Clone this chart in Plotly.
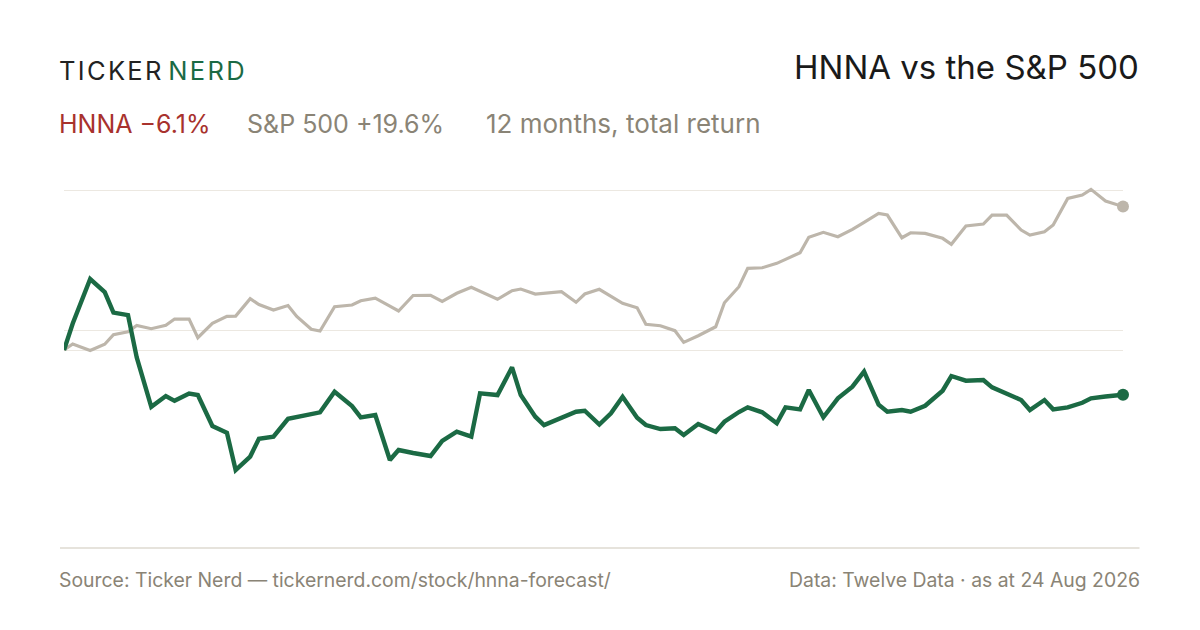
import pandas as pd
import plotly.graph_objects as go

# giorni dal 25 ago 2025 (un punto ogni ~3 sedute)
giorni = [0, 3, 9, 14, 17, 22, 25, 30, 35, 38, 43, 46, 51, 56, 59, 64, 67, 72, 77, 80,
          85, 88, 93, 99, 102, 107, 112, 115, 120, 126, 130, 135, 140, 143, 149, 154, 157, 162, 165, 171,
          176, 179, 184, 188, 192, 197, 200, 205, 210, 213, 218, 224, 227, 232, 235, 240, 245, 248, 253, 256,
          261, 266, 271, 275, 280, 283, 288, 291, 296, 302, 305, 310, 316, 319, 324, 329, 332, 337, 340, 345,
          350, 353, 358, 364]

# rendimento cumulato in %
sp500 = [0.00, 0.82, -0.07, 0.79, 2.09, 2.50, 3.35, 2.91, 3.37, 4.23, 4.23, 1.68, 3.65, 4.60, 4.64, 7.01, 6.22, 5.46, 6.08, 4.58,
         2.83, 2.60, 5.92, 6.15, 6.73, 7.10, 6.01, 5.33, 7.45, 7.47, 6.63, 7.75, 8.57, 8.06, 6.93, 8.10, 8.33, 7.65, 7.79, 7.96,
         6.52, 7.65, 8.29, 7.28, 6.38, 5.78, 3.51, 3.32, 2.64, 1.05, 1.95, 3.18, 6.46, 8.65, 11.16, 11.24, 11.84, 12.39, 13.29, 15.40,
         16.08, 15.48, 16.49, 17.45, 18.67, 18.44, 15.34, 16.02, 15.94, 15.26, 14.44, 16.94, 17.21, 18.44, 18.44, 16.39, 15.71, 16.16, 17.08, 20.72,
         21.17, 21.95, 20.36, 19.60]

hnna = [0.00, 3.62, 9.70, 7.92, 5.12, 4.78, -1.02, -7.75, -6.28, -6.94, -5.94, -6.15, -10.38, -11.30, -16.39, -14.55, -12.12, -11.84, -9.39, -9.19,
        -8.81, -8.51, -5.70, -7.65, -9.19, -8.88, -15.03, -13.66, -14.07, -14.48, -12.43, -11.16, -11.84, -5.92, -6.15, -2.36, -6.15, -9.11, -10.25, -9.29,
        -8.43, -8.29, -10.18, -8.65, -6.38, -9.25, -10.25, -10.79, -10.70, -11.61, -10.11, -11.16, -9.80, -8.47, -7.83, -8.51, -10.01, -7.83, -8.10, -5.46,
        -9.19, -6.60, -5.01, -2.94, -7.47, -8.43, -8.20, -8.43, -7.61, -5.56, -3.55, -4.19, -4.10, -5.10, -5.92, -6.83, -8.20, -6.83, -8.10, -7.83,
        -7.20, -6.60, -6.35, -6.10]

griglia = [0, 2.73, 21.86]

date = pd.Timestamp('2025-08-25') + pd.to_timedelta(giorni, unit='D')

VERDE = '#1b6a44'
GRIGIO = '#bdb6ab'
TESTO = '#8a8476'
ROSSO = '#a8322d'

W, H = 1200, 630
OFF = 8  # margine del body della pagina
# area del grafico in coordinate della pagina
X0, X1, Y0, Y1 = 64, 1123.5, 160, 520
L, R, T, B = X0 - OFF, W - (X1 - OFF), Y0 - OFF, H - (Y1 - OFF)


def px(x):
    return (x - X0) / (X1 - X0)


def py(y):
    return (Y1 - y) / (Y1 - Y0)


fig = go.Figure()
fig.add_trace(go.Scatter(x=date, y=sp500, mode='lines', line=dict(color=GRIGIO, width=3.2),
                         hoverinfo='skip', showlegend=False))
fig.add_trace(go.Scatter(x=date, y=hnna, mode='lines', line=dict(color=VERDE, width=4.4),
                         hoverinfo='skip', showlegend=False))
fig.add_trace(go.Scatter(x=[date[-1]], y=[sp500[-1]], mode='markers', cliponaxis=False,
                         marker=dict(color=GRIGIO, size=12), hoverinfo='skip', showlegend=False))
fig.add_trace(go.Scatter(x=[date[-1]], y=[hnna[-1]], mode='markers', cliponaxis=False,
                         marker=dict(color=VERDE, size=12), hoverinfo='skip', showlegend=False))

fig.update_xaxes(range=[date[0], date[-1]], showgrid=False, zeroline=False,
                 showticklabels=False, showline=False)
fig.update_yaxes(range=[-23.22, 25.96], tickvals=griglia, showticklabels=False,
                 gridcolor='#ece8e1', gridwidth=1.3, zeroline=False, showline=False)

sp = '\u200a'
logo = ("<span style='color:#222222'>" + sp.join('TICKER') + "</span>" + sp + sp + sp +
        "<span style='color:%s'>" % VERDE + sp.join('NERD') + "</span>")

ann = [
    dict(x=px(57), y=py(70), text=logo, xanchor='left', yanchor='middle',
         font=dict(size=25.5, family='Inter')),
    dict(x=px(1142), y=py(67), text='HNNA vs the S&P 500', xanchor='right', yanchor='middle',
         font=dict(size=33, family='Inter', color='#1a1a1a')),
    dict(x=px(57), y=py(124), text='HNNA \u22126.1%', xanchor='left', yanchor='middle',
         font=dict(size=25, family='Inter', color=ROSSO)),
    dict(x=px(245), y=py(124), text='S&P 500 +19.6%', xanchor='left', yanchor='middle',
         font=dict(size=25, family='Inter', color=TESTO)),
    dict(x=px(484), y=py(124), text='12 months, total return', xanchor='left', yanchor='middle',
         font=dict(size=26, family='Inter', color=TESTO)),
    dict(x=px(57), y=py(580), text='Source: Ticker Nerd \u2014 tickernerd.com/stock/hnna-forecast/',
         xanchor='left', yanchor='middle', font=dict(size=19.4, family='Inter', color=TESTO)),
    dict(x=px(1143), y=py(580), text='Data: Twelve Data \u00b7 as at 24 Aug 2026',
         xanchor='right', yanchor='middle', font=dict(size=19.4, family='Inter', color=TESTO)),
]
for a in ann:
    fig.add_annotation(xref='paper', yref='paper', showarrow=False, **a)

fig.add_shape(type='line', xref='paper', yref='paper', x0=px(60), x1=px(1140),
              y0=py(548), y1=py(548), line=dict(color='#dedad0', width=1.5))

fig.update_layout(width=W, height=H, margin=dict(l=L, r=R, t=T, b=B),
                  paper_bgcolor='white', plot_bgcolor='white', font=dict(family='Inter'))

fig.write_html('out.html')
